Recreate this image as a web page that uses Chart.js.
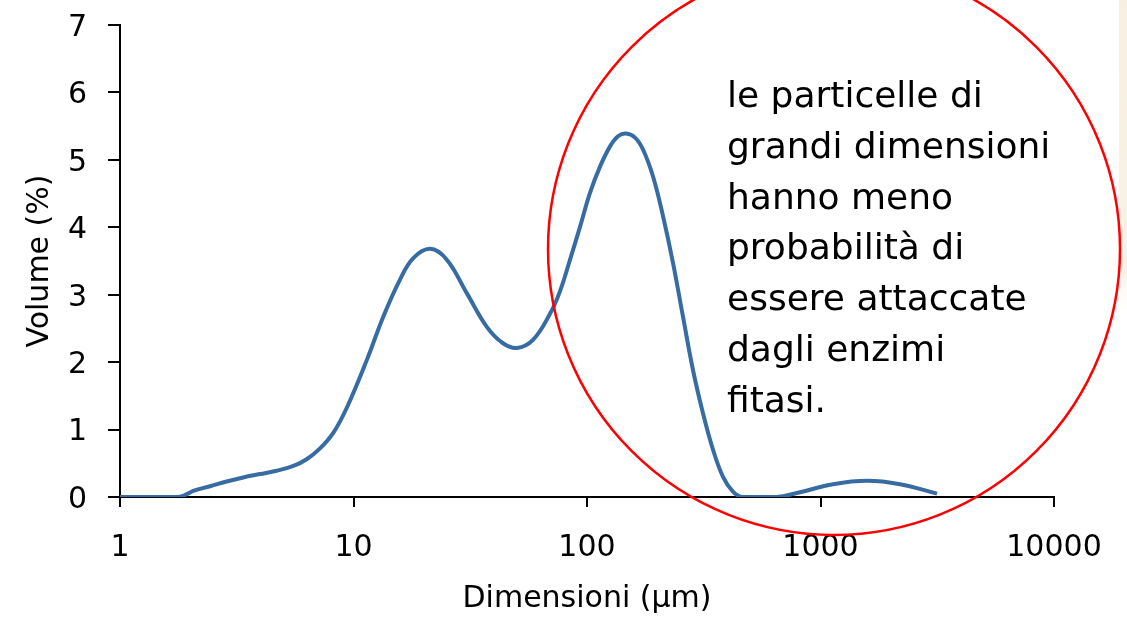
<!DOCTYPE html>
<html lang="it">
<head>
<meta charset="utf-8">
<title>Distribuzione granulometrica</title>
<script src="https://cdn.jsdelivr.net/npm/chart.js@4.4.1/dist/chart.umd.min.js"></script>
<style>
  html, body { margin: 0; padding: 0; background: #fff; }
  #wrap { position: relative; width: 1127px; height: 617px; }
</style>
</head>
<body>
<div id="wrap"><canvas id="psd"></canvas></div>
<script>
(() => {
  'use strict';

  // ===== Dati =====
  const SIZES   = [1, 1.75, 1.9, 2.06, 2.43, 2.86, 3.37, 3.98, 4.69, 5.53, 6.3, 7.19,
                   8.19, 9.35, 11.4, 13.4, 15.8, 18, 21.3, 25.1, 30.6, 37.3, 43.7,
                   50.1, 58.7, 69.5, 76.6, 84.6, 93.4, 103, 113.7, 125.5, 135.8, 147,
                   160.6, 173.9, 191.9, 211.8, 233.6, 257.8, 284.5, 314, 346.6, 382.4,
                   421.9, 461, 651, 817, 1132, 1582, 2188, 3155];
  const VOLUMES = [0, 0, 0.03, 0.09, 0.16, 0.23, 0.29, 0.34, 0.39, 0.46, 0.56, 0.72,
                   0.95, 1.32, 2.03, 2.67, 3.22, 3.54, 3.68, 3.52, 3.02, 2.52, 2.28,
                   2.21, 2.33, 2.72, 3.05, 3.52, 4.01, 4.51, 4.9, 5.2, 5.35, 5.39,
                   5.33, 5.15, 4.75, 4.16, 3.47, 2.67, 1.88, 1.24, 0.7, 0.3,
                   0.08, 0, 0, 0.07, 0.19, 0.24, 0.19, 0.05];
  const X_TICKS = [1, 10, 100, 1000, 10000];
  const Y_TICKS = [0, 1, 2, 3, 4, 5, 6, 7];
  const X_TITLE = 'Dimensioni (µm)';
  const Y_TITLE = 'Volume (%)';
  const NOTE_LINES = [
    'le particelle di',
    'grandi dimensioni',
    'hanno meno',
    'probabilità di',
    'essere attaccate',
    'dagli enzimi',
    'fitasi.'
  ];

  // ===== Stili =====
  const FONT_FAMILY = '"DejaVu Sans", "Noto Sans", sans-serif';
  const LINE_COLOR  = '#376ca3';
  const INK         = '#000';

  // ===== Nota cerchiata (annotazione) =====
  const notePlugin = {
    id: 'note',
    beforeDraw(chart) {
      const { ctx, width } = chart;
      // bordo beige della foto a destra
      const g = ctx.createLinearGradient(0, 0, 0, 320);
      g.addColorStop(0, '#f7f0e2');
      g.addColorStop(0.85, '#f8f1e6');
      g.addColorStop(1, 'rgba(255,255,255,0)');
      ctx.save();
      ctx.fillStyle = g;
      ctx.fillRect(width - 8, 0, 8, 320);
      ctx.restore();
    },
    afterDraw(chart) {
      const { ctx } = chart;
      ctx.save();
      ctx.strokeStyle = '#ff0000';
      ctx.lineWidth = 2.5;
      ctx.beginPath();
      ctx.arc(834, 249, 286, 0, Math.PI * 2);
      ctx.stroke();

      ctx.fillStyle = INK;
      ctx.font = `36px ${FONT_FAMILY}`;
      ctx.textBaseline = 'alphabetic';
      NOTE_LINES.forEach((t, i) => ctx.fillText(t, 727, 107 + i * 50.8));
      ctx.restore();
    }
  };

  // ===== Grafico =====
  const points = SIZES.map((x, i) => ({ x, y: VOLUMES[i] }));

  new Chart(document.getElementById('psd'), {
    type: 'line',
    data: {
      datasets: [{
        data: points,
        borderColor: LINE_COLOR,
        borderWidth: 4,
        pointRadius: 0,
        fill: false,
        tension: 0.4
      }]
    },
    options: {
      responsive: true,
      maintainAspectRatio: false,
      devicePixelRatio: 1,
      animation: false,
      layout: { padding: { top: 25, right: 73, left: 0, bottom: 0 } },
      plugins: { legend: { display: false }, tooltip: { enabled: false } },
      scales: {
        x: {
          type: 'logarithmic',
          min: 1,
          max: 10000,
          afterBuildTicks: a => { a.ticks = X_TICKS.map(value => ({ value })); },
          afterFit: a => { a.height = 120; },
          ticks: {
            color: INK,
            font: { family: FONT_FAMILY, size: 30 },
            padding: 23,
            maxRotation: 0,
            autoSkip: false,
            callback: v => String(v)
          },
          grid: { drawOnChartArea: false, drawTicks: true, tickLength: 10, color: INK, lineWidth: 2 },
          border: { color: INK, width: 2 },
          title: {
            display: true,
            text: X_TITLE,
            color: INK,
            font: { family: FONT_FAMILY, size: 30 },
            padding: { top: 0, bottom: 0 }
          }
        },
        y: {
          min: Y_TICKS[0],
          max: Y_TICKS[Y_TICKS.length - 1],
          afterBuildTicks: a => { a.ticks = Y_TICKS.map(value => ({ value })); },
          afterFit: a => { a.width = 120; a.paddingTop = 0; a.paddingBottom = 0; },
          ticks: {
            color: INK,
            font: { family: FONT_FAMILY, size: 30 },
            padding: 21,
            labelOffset: 3
          },
          grid: { drawOnChartArea: false, drawTicks: true, tickLength: 12, color: INK, lineWidth: 2 },
          border: { color: INK, width: 2 },
          title: {
            display: true,
            text: Y_TITLE,
            color: INK,
            font: { family: FONT_FAMILY, size: 30 },
            padding: { top: 22, bottom: 0 }
          }
        }
      }
    },
    plugins: [notePlugin]
  });
})();
</script>
</body>
</html>
